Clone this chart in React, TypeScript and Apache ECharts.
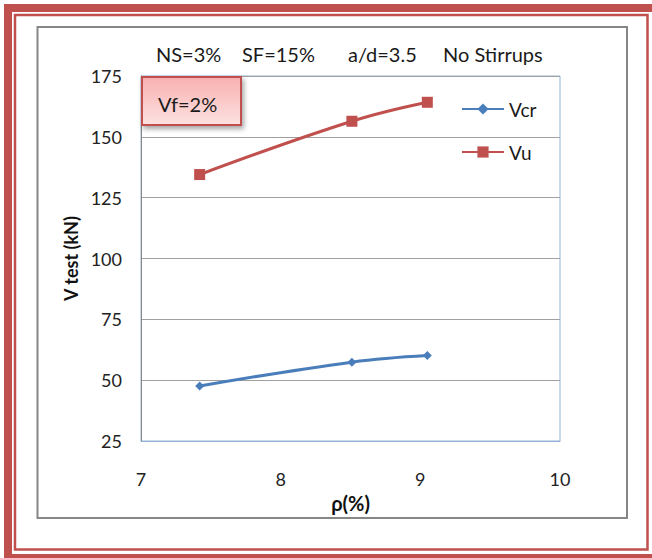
import React, { useEffect, useRef } from "react";
import * as echarts from "echarts";

const rhoValues = [7.42, 8.51, 9.05];
const vcrValues = [47.6, 57.4, 60.1];
const vuValues = [134.5, 156.4, 164.2];
const seriesNames = ["Vcr", "Vu"];
const titleParts = ["NS=3%", "SF=15%", "a/d=3.5", "No Stirrups"];
const titleX = [156, 242, 348, 443];
const boxLabel = "Vf=2%";
const xAxisName = "ρ(%)";
const yAxisName = "V test (kN)";

const FONT = "Lato, 'Noto Sans', sans-serif";
const RED = "#c0504d";
const BLUE = "#4a7ebb";

export default function App() {
  const ref = useRef<HTMLDivElement>(null);
  useEffect(() => {
    if (!ref.current) return;
    const chart = echarts.init(ref.current, undefined, { renderer: "svg" });
    const option: any = {
      animation: false,
      backgroundColor: "#ffffff",
      textStyle: { fontFamily: FONT },
      grid: {
        left: 141,
        top: 76,
        width: 419,
        height: 365,
        show: true,
        borderColor: "#95b3d7",
        borderWidth: 1,
        backgroundColor: "transparent",
      },
      xAxis: {
        type: "value",
        min: 7,
        max: 10,
        interval: 1,
        name: xAxisName,
        nameLocation: "middle",
        nameGap: 45,
        nameTextStyle: { fontSize: 20, fontWeight: "bold", color: "#111", fontFamily: FONT },
        axisLine: { show: true, lineStyle: { color: "#95b3d7", width: 1 } },
        axisTick: { show: false },
        splitLine: { show: false },
        axisLabel: { fontSize: 18, color: "#222", margin: 29, fontFamily: FONT },
      },
      yAxis: {
        type: "value",
        min: 25,
        max: 175,
        interval: 25,
        name: yAxisName,
        nameLocation: "middle",
        nameGap: 47,
        nameRotate: 90,
        nameTextStyle: { fontSize: 18, fontWeight: "bold", color: "#111", fontFamily: FONT },
        axisLine: { show: true, lineStyle: { color: "#868686", width: 1 } },
        axisTick: { show: false },
        splitLine: { show: true, lineStyle: { color: "#a0a0a0", width: 1 } },
        axisLabel: { fontSize: 18, color: "#222", margin: 19, fontFamily: FONT },
      },
      legend: {
        orient: "vertical",
        left: 461,
        top: 99,
        padding: 0,
        itemWidth: 42,
        itemHeight: 14,
        itemGap: 23,
        textStyle: { fontSize: 19, lineHeight: 20, color: "#1a1a1a", fontFamily: FONT },
        data: seriesNames,
      },
      series: [
        {
          name: seriesNames[0],
          type: "line",
          data: rhoValues.map((x, i) => [x, vcrValues[i]]),
          smooth: 0.4,
          symbol: "diamond",
          symbolSize: 9,
          lineStyle: { color: BLUE, width: 3 },
          itemStyle: { color: BLUE },
        },
        {
          name: seriesNames[1],
          type: "line",
          data: rhoValues.map((x, i) => [x, vuValues[i]]),
          smooth: 0.4,
          symbol: "rect",
          symbolSize: 11,
          lineStyle: { color: RED, width: 3 },
          itemStyle: { color: RED },
        },
      ],
      graphic: [
        {
          type: "rect",
          shape: { x: 8, y: 8, width: 651, height: 550 },
          style: { fill: "none", stroke: RED, lineWidth: 8 },
          silent: true,
        },
        {
          type: "rect",
          shape: { x: 15, y: 15, width: 632.5, height: 534.5 },
          style: { fill: "none", stroke: RED, lineWidth: 2.5 },
          silent: true,
        },
        {
          type: "rect",
          shape: { x: 37.5, y: 27, width: 589.5, height: 491 },
          style: { fill: "none", stroke: "#868686", lineWidth: 2 },
          silent: true,
        },
        ...titleParts.map((t, i) => ({
          type: "text",
          x: titleX[i],
          y: 54,
          style: {
            text: t,
            fontSize: 20,
            fontFamily: FONT,
            fill: "#1a1a1a",
            textAlign: "left",
            textVerticalAlign: "middle",
          },
        })),
        {
          type: "rect",
          z: 100,
          shape: { x: 142, y: 77, width: 99, height: 48 },
          style: {
            fill: {
              type: "linear",
              x: 0,
              y: 0,
              x2: 0,
              y2: 1,
              colorStops: [
                { offset: 0, color: "#f8b0b0" },
                { offset: 1, color: "#fde2e2" },
              ],
            },
            stroke: RED,
            lineWidth: 2,
            shadowBlur: 5,
            shadowOffsetX: 2,
            shadowOffsetY: 3,
            shadowColor: "rgba(0,0,0,0.35)",
          },
        },
        {
          type: "text",
          z: 101,
          x: 158,
          y: 104,
          style: {
            text: boxLabel,
            fontSize: 20,
            fontFamily: FONT,
            fill: "#1a1a1a",
            textAlign: "left",
            textVerticalAlign: "middle",
          },
        },
      ],
    };
    chart.setOption(option);
    return () => chart.dispose();
  }, []);
  return (
    <div
      ref={ref}
      style={{ position: "absolute", left: 0, top: 0, width: 652, height: 558 }}
    />
  );
}
